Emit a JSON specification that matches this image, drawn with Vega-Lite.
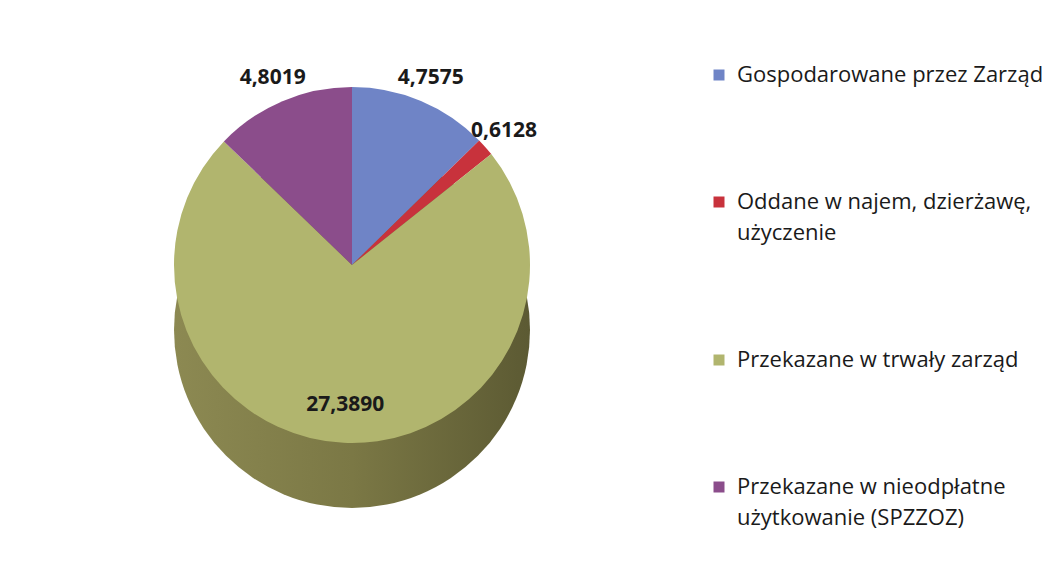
{
  "$schema": "https://vega.github.io/schema/vega-lite/v6.json",
  "width": 704,
  "height": 530,
  "padding": 0,
  "background": "white",
  "config": {
    "view": {"stroke": null},
    "locale": {"number": {"decimal": ",", "thousands": " ", "grouping": [3], "currency": ["", " zł"]}},
    "style": {"guide-label": {"lineHeight": 31}}
  },
  "data": {
    "values": [
      {"kategoria": "Gospodarowane przez Zarząd", "wartosc": 4.7575, "nr": 1},
      {"kategoria": "Oddane w najem, dzierżawę, użyczenie", "wartosc": 0.6128, "nr": 2},
      {"kategoria": "Przekazane w trwały zarząd", "wartosc": 27.389, "nr": 3},
      {"kategoria": "Przekazane w nieodpłatne użytkowanie (SPZZOZ)", "wartosc": 4.8019, "nr": 4}
    ]
  },
  "layer": [
    {
      "transform": [{"aggregate": [{"op": "sum", "field": "wartosc", "as": "suma"}]}],
      "mark": {
        "type": "arc",
        "radius": 178,
        "yOffset": 65,
        "color": {
          "gradient": "linear", "x1": 0, "y1": 0, "x2": 1, "y2": 0,
          "stops": [
            {"offset": 0, "color": "#8c8952"},
            {"offset": 0.5, "color": "#7b7845"},
            {"offset": 1, "color": "#5c5a33"}
          ]
        }
      },
      "encoding": {"theta": {"field": "suma", "type": "quantitative", "stack": true}}
    },
    {
      "mark": {"type": "arc", "radius": 178},
      "encoding": {
        "theta": {"field": "wartosc", "type": "quantitative", "stack": true},
        "order": {"field": "nr", "type": "quantitative"},
        "color": {
          "field": "kategoria",
          "type": "nominal",
          "scale": {
            "domain": ["Gospodarowane przez Zarząd", "Oddane w najem, dzierżawę, użyczenie", "Przekazane w trwały zarząd", "Przekazane w nieodpłatne użytkowanie (SPZZOZ)"],
            "range": ["#6f84c6", "#c8323c", "#b1b56e", "#8b4d8b"]
          },
          "legend": {
            "title": null,
            "orient": "none",
            "legendX": 708,
            "legendY": 64,
            "padding": 0,
            "symbolType": "square",
            "symbolSize": 121,
            "symbolStrokeWidth": 0,
            "labelFont": "Open Sans",
            "labelFontSize": 22,
            "labelColor": "#1a1a1a",
            "labelLimit": 400,
            "labelOffset": 7,
            "rowPadding": 105,
            "labelExpr": "datum.label == 'Oddane w najem, dzierżawę, użyczenie' ? ['Oddane w najem, dzierżawę,', 'użyczenie'] : datum.label == 'Przekazane w nieodpłatne użytkowanie (SPZZOZ)' ? ['Przekazane w nieodpłatne', 'użytkowanie (SPZZOZ)'] : datum.label"
          }
        }
      }
    },
    {
      "mark": {"type": "text", "radius": 203, "font": "Open Sans", "fontSize": 21, "fontWeight": "bold", "color": "#1a1a1a"},
      "encoding": {
        "theta": {"field": "wartosc", "type": "quantitative", "stack": true},
        "order": {"field": "nr", "type": "quantitative"},
        "text": {"field": "wartosc", "type": "quantitative", "format": ".4f"},
        "opacity": {"condition": {"test": "datum.nr == 3", "value": 0}, "value": 1}
      }
    },
    {
      "mark": {"type": "text", "radius": 140, "font": "Open Sans", "fontSize": 21, "fontWeight": "bold", "color": "#1a1a1a"},
      "encoding": {
        "theta": {"field": "wartosc", "type": "quantitative", "stack": true},
        "order": {"field": "nr", "type": "quantitative"},
        "text": {"field": "wartosc", "type": "quantitative", "format": ".4f"},
        "opacity": {"condition": {"test": "datum.nr == 3", "value": 1}, "value": 0}
      }
    }
  ]
}
